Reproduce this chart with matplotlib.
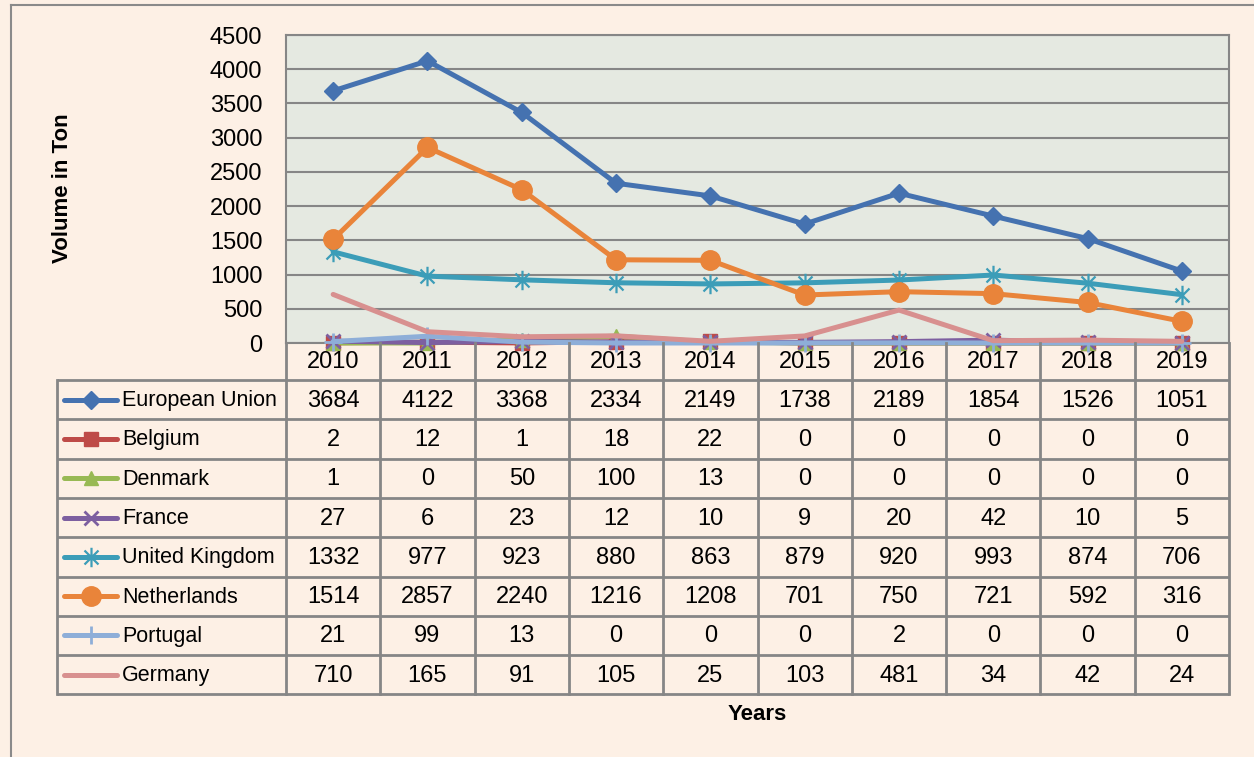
import matplotlib
matplotlib.use('Agg')
import matplotlib.pyplot as plt
from matplotlib import font_manager
from matplotlib.transforms import blended_transform_factory
from matplotlib.path import Path

years = ['2010', '2011', '2012', '2013', '2014', '2015', '2016', '2017', '2018', '2019']
eu = [3684, 4122, 3368, 2334, 2149, 1738, 2189, 1854, 1526, 1051]
belgium = [2, 12, 1, 18, 22, 0, 0, 0, 0, 0]
denmark = [1, 0, 50, 100, 13, 0, 0, 0, 0, 0]
france = [27, 6, 23, 12, 10, 9, 20, 42, 10, 5]
uk = [1332, 977, 923, 880, 863, 879, 920, 993, 874, 706]
netherlands = [1514, 2857, 2240, 1216, 1208, 701, 750, 721, 592, 316]
portugal = [21, 99, 13, 0, 0, 0, 2, 0, 0, 0]
germany = [710, 165, 91, 105, 25, 103, 481, 34, 42, 24]

names = ['European Union', 'Belgium', 'Denmark', 'France', 'United Kingdom',
         'Netherlands', 'Portugal', 'Germany']
values = [eu, belgium, denmark, france, uk, netherlands, portugal, germany]

star = Path([(0, -1), (0, 1), (-0.72, -0.72), (0.72, 0.72), (-0.72, 0.72), (0.72, -0.72)],
            [Path.MOVETO, Path.LINETO, Path.MOVETO, Path.LINETO, Path.MOVETO, Path.LINETO])

styles = [
    dict(color='#4572B0', marker='D', ms=9.5),
    dict(color='#BE4B48', marker='s', ms=10),
    dict(color='#98B954', marker='^', ms=10),
    dict(color='#7D5FA0', marker='x', ms=10, mew=2),
    dict(color='#3C9DB8', marker=star, ms=14, mew=1.6, mfc='none'),
    dict(color='#E9843A', marker='o', ms=14),
    dict(color='#8EAED8', marker='+', ms=13, mew=2),
    dict(color='#D8908F', marker=None, ms=0),
]

BG = '#FDF0E5'
PLOT_BG = '#E5E9E1'
GRID = '#868686'

avail = {f.name for f in font_manager.fontManager.ttflist}
if 'Liberation Sans Narrow' in avail:
    FONT = ['Liberation Sans Narrow', 'DejaVu Sans']
    FS, LFS, NAME_FS = 19, 19, 19
else:
    FONT = ['Liberation Sans', 'DejaVu Sans']
    FS, LFS, NAME_FS = 17, 16, 15.5
plt.rcParams['font.family'] = FONT

W, H = 1254, 757
fig = plt.figure(figsize=(W / 100, H / 100), dpi=100, facecolor=BG)

def fx(px):
    return px / W

def fy(py):
    return 1 - py / H

L, R, T, B = 286, 1229, 35, 343
ax = fig.add_axes([fx(L), fy(B), fx(R) - fx(L), fy(T) - fy(B)])
ax.set_facecolor(PLOT_BG)
ax.set_xlim(-0.5, len(years) - 0.5)
ax.set_ylim(0, 4500)
ax.set_yticks(range(0, 4501, 500))
ax.set_xticks([])
ax.grid(axis='y', color=GRID, lw=1.5)
ax.set_axisbelow(True)
ax.tick_params(axis='y', length=0, labelsize=FS, pad=17)
for s in ax.spines.values():
    s.set_color(GRID)
    s.set_linewidth(1.5)

x = list(range(len(years)))
for name, vals, st in zip(names, values, styles):
    ax.plot(x, vals, color=st['color'], lw=3.6, marker=st['marker'],
            ms=st['ms'], mew=st.get('mew', 1), mfc=st.get('mfc', st['color']),
            mec=st['color'], clip_on=False, solid_capstyle='round', zorder=3)

# overlay in pixel coordinates
ov = fig.add_axes([0, 0, 1, 1], zorder=5)
ov.set_xlim(0, W)
ov.set_ylim(H, 0)
ov.axis('off')
ov.patch.set_alpha(0)
bt = blended_transform_factory(ax.transData, ov.transData)

# outer frame
ov.plot([11, 11], [5, H], color='#8A8A8A', lw=1.5)
ov.plot([11, W], [5, 5], color='#8A8A8A', lw=1.5)

# table
row_top = 380
row_h = 39.3
nrows = len(names)
tbl_bottom = row_top + nrows * row_h
for i in range(nrows + 1):
    y = row_top + i * row_h
    ov.plot([57, R], [y, y], color=GRID, lw=2, solid_capstyle='butt')
ov.plot([57, 57], [row_top, tbl_bottom], color=GRID, lw=2)
for k in range(len(years) + 1):
    ov.plot([k - 0.5, k - 0.5], [B, tbl_bottom], color=GRID, lw=2, transform=bt)

for j, yr in enumerate(years):
    ov.text(j, (B + row_top) / 2 + 1, yr, transform=bt, ha='center', va='center', fontsize=FS)

for i, (name, vals, st) in enumerate(zip(names, values, styles)):
    yc = row_top + (i + 0.5) * row_h
    ov.plot([64, 117], [yc, yc], color=st['color'], lw=3.6, solid_capstyle='round')
    if st['marker'] is not None:
        ov.plot([90.5], [yc], marker=st['marker'], ms=st['ms'], mew=st.get('mew', 1),
                mfc=st.get('mfc', st['color']), mec=st['color'], color=st['color'])
    ov.text(122, yc + 1, name, ha='left', va='center', fontsize=NAME_FS)
    for j, v in enumerate(vals):
        ov.text(j, yc + 1, str(v), transform=bt, ha='center', va='center', fontsize=FS)

ov.text(62, 188, 'Volume in Ton', rotation=90, ha='center', va='center',
        fontsize=LFS, fontweight='bold')
ov.text(757, 714, 'Years', ha='center', va='center', fontsize=LFS, fontweight='bold')

fig.savefig('out.png', dpi=100, facecolor=BG)
